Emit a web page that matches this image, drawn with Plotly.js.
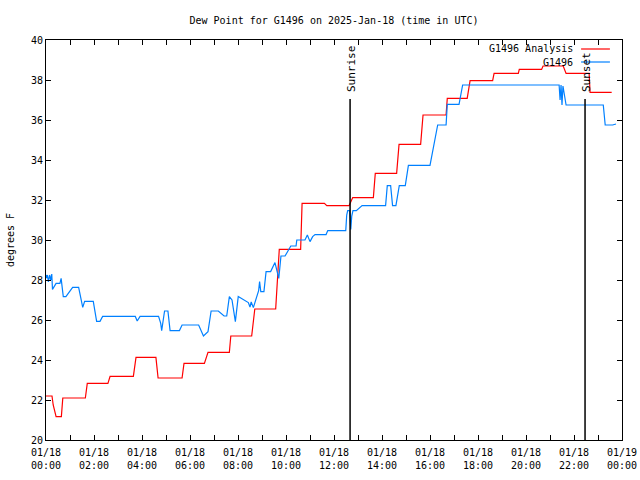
<!DOCTYPE html>
<html>
<head>
<meta charset="utf-8">
<script src="https://cdn.plot.ly/plotly-3.0.1.min.js"></script>
<style>html,body{margin:0;padding:0;background:#fff;}#chart{width:640px;height:480px;}</style>
</head>
<body>
<div id="chart"></div>
<script>
// ---- data (hours after 2025-01-18 00:00 UTC, dew point degF) ----
var analysisHours = [0,0.25,0.3,0.42,0.64,0.7,1.64,1.72,2.58,2.67,3.64,3.75,4.58,4.67,5.67,5.75,6.6,6.75,7.64,7.7,8.57,8.7,9.57,9.63,9.7,9.72,10.61,10.67,11.6,11.7,12.63,12.78,13.64,13.72,14.61,14.71,15.61,15.71,16.67,16.72,17.55,17.67,18.61,18.67,19.68,19.72,20.65,20.71,21.55,21.67,22.63,22.67,23.57];
var analysisValues = [22.2,22.2,21.75,21.17,21.17,22.1,22.1,22.83,22.83,23.18,23.18,24.13,24.13,23.1,23.1,23.83,23.83,24.38,24.38,25.2,25.2,26.55,26.55,27.67,28.67,29.53,29.53,31.83,31.83,31.72,31.72,32.12,32.12,33.33,33.33,34.78,34.78,36.25,36.25,37.08,37.08,37.97,37.97,38.33,38.33,38.53,38.53,38.7,38.7,38.33,38.33,37.38,37.38];

var stationHours = [0.0,0.03,0.06,0.1,0.15,0.2,0.24,0.27,0.42,0.58,0.63,0.72,0.83,0.97,1.11,1.36,1.47,1.53,1.61,1.97,2.11,2.25,2.36,3.72,3.8,3.92,4.69,4.78,4.82,4.94,5.08,5.17,5.56,5.67,6.36,6.47,6.54,6.56,6.75,6.88,7.18,7.42,7.53,7.64,7.75,7.89,8.01,8.1,8.25,8.43,8.5,8.55,8.64,8.72,8.86,8.9,8.95,9.08,9.17,9.36,9.54,9.7,9.79,9.96,10.1,10.2,10.42,10.45,10.79,10.89,11.0,11.11,11.21,11.67,11.74,12.49,12.53,12.57,12.65,12.7,12.74,12.79,12.93,13.17,14.15,14.22,14.36,14.44,14.58,14.72,14.97,15.1,16.0,16.08,16.18,16.32,16.67,16.72,17.21,17.28,17.36,21.38,21.42,21.46,21.5,21.54,21.67,23.22,23.3,23.61,23.75];
var stationValues = [28.25,28.1,28.25,27.9,28.25,28.0,28.3,27.53,27.83,27.83,28.08,27.17,27.17,27.4,27.63,27.63,27.0,26.63,26.93,26.93,25.93,25.93,26.18,26.18,25.95,26.18,26.18,25.83,25.47,26.45,26.45,25.47,25.47,25.75,25.75,25.47,25.23,25.2,25.42,26.45,26.45,26.2,26.2,27.17,27.0,25.92,27.17,27.1,27.0,26.87,26.65,26.9,26.62,26.92,27.47,27.92,27.42,27.42,28.42,28.42,28.87,28.08,29.2,29.2,29.5,29.7,29.7,30.0,30.0,30.25,29.92,30.17,30.27,30.27,30.47,30.47,31.25,31.47,31.47,30.53,31.2,31.47,31.47,31.72,31.72,32.72,32.72,31.72,31.72,32.72,32.72,33.73,33.73,34.2,34.75,35.75,35.75,36.78,36.78,37.33,37.75,37.75,37.0,37.75,36.75,37.7,36.75,36.75,35.75,35.75,35.8];

var eventNames = ['Sunrise', 'Sunset'];
var eventHours = [12.67, 22.46];
var eventTop = 37.05;

var seriesNames = ['G1496 Analysis', 'G1496'];
var seriesColors = ['#ff0000', '#0080ff'];

var yTickVals = [20,22,24,26,28,30,32,34,36,38,40];

// ---- helpers ----
function pad(n){ return (n < 10 ? '0' : '') + n; }
function hToDate(h){
  var ms = Date.UTC(2025,0,18) + Math.round(h*3600000);
  var d = new Date(ms);
  return d.getUTCFullYear() + '-' + pad(d.getUTCMonth()+1) + '-' + pad(d.getUTCDate()) + ' ' +
         pad(d.getUTCHours()) + ':' + pad(d.getUTCMinutes()) + ':' + pad(d.getUTCSeconds());
}

var FONT = 'DejaVu Sans Mono, monospace';
var FS = 10;

var traces = [
  {x: analysisHours.map(hToDate), y: analysisValues, type: 'scatter', mode: 'lines',
   name: seriesNames[0], line: {color: seriesColors[0], width: 1.2}, showlegend: false},
  {x: stationHours.map(hToDate), y: stationValues, type: 'scatter', mode: 'lines',
   name: seriesNames[1], line: {color: seriesColors[1], width: 1.2}, showlegend: false}
];

var shapes = [];
var annotations = [];
eventHours.forEach(function(h, i){
  shapes.push({type: 'line', xref: 'x', yref: 'y', x0: hToDate(h), x1: hToDate(h), y0: 20, y1: eventTop,
               line: {color: '#000', width: 1.5}});
  annotations.push({xref: 'x', yref: 'y', x: hToDate(h), y: eventTop, text: eventNames[i],
                    textangle: -90, showarrow: false, xanchor: 'center', yanchor: 'bottom',
                    yshift: 5, xshift: 1, font: {family: FONT, size: FS + 1, color: '#000'}});
});

// manual legend (text right-aligned, sample line to its right)
var legY = [0.9775, 0.945];
seriesNames.forEach(function(n, i){
  annotations.push({xref: 'paper', yref: 'paper', x: 0.918, y: legY[i], text: n, showarrow: false,
                    xanchor: 'right', yanchor: 'middle', font: {family: FONT, size: FS, color: '#000'}});
  shapes.push({type: 'line', xref: 'paper', yref: 'paper', x0: 0.929, x1: 0.979, y0: legY[i], y1: legY[i],
               line: {color: seriesColors[i], width: 1.2}});
});

var layout = {
  width: 640, height: 480,
  margin: {l: 46, r: 18, t: 40, b: 40, pad: 0},
  paper_bgcolor: '#fff', plot_bgcolor: '#fff',
  font: {family: FONT, size: FS, color: '#000'},
  title: {text: 'Dew Point for G1496 on 2025-Jan-18 (time in UTC)', x: 0.5, xref: 'paper',
          y: 0.958, yref: 'container', yanchor: 'middle', font: {family: FONT, size: FS, color: '#000'}},
  showlegend: false,
  xaxis: {
    type: 'date', range: [hToDate(0), hToDate(24)],
    dtick: 7200000, tick0: hToDate(0), tickformat: '%m/%d<br>%H:%M',
    ticks: 'inside', ticklen: 5, tickcolor: '#000', tickwidth: 1, ticklabelstandoff: 3,
    minor: {dtick: 3600000, ticks: 'inside', ticklen: 5, tickcolor: '#000', showgrid: false},
    showline: true, linecolor: '#000', linewidth: 1, mirror: 'ticks',
    showgrid: false, zeroline: false, fixedrange: true,
    tickfont: {family: FONT, size: FS, color: '#000'}
  },
  yaxis: {
    range: [20, 40], tickvals: yTickVals,
    ticks: 'inside', ticklen: 5, tickcolor: '#000', tickwidth: 1,
    showline: true, linecolor: '#000', linewidth: 1, mirror: 'ticks',
    showgrid: false, zeroline: false,
    title: {text: 'degrees F', standoff: 14, font: {family: FONT, size: FS, color: '#000'}},
    tickfont: {family: FONT, size: FS, color: '#000'}
  },
  shapes: shapes,
  annotations: annotations
};

Plotly.newPlot('chart', traces, layout, {staticPlot: true, displayModeBar: false});
</script>
</body>
</html>
